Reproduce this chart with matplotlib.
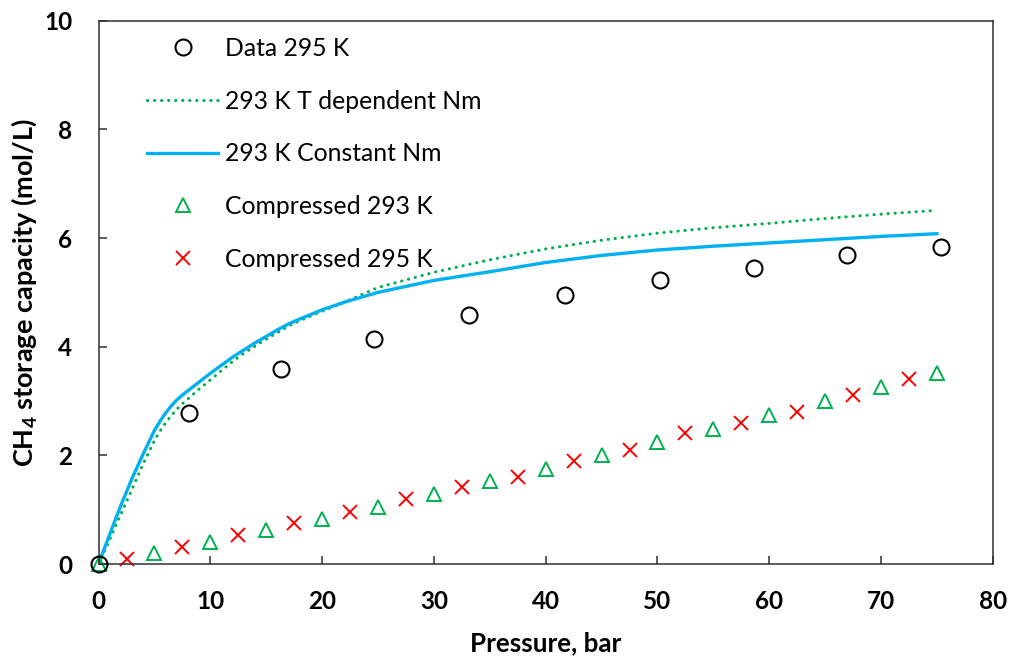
import matplotlib
matplotlib.use("Agg")
import matplotlib.pyplot as plt

plt.rcParams['font.family'] = ['Lato', 'DejaVu Sans']
plt.rcParams['mathtext.fontset'] = 'custom'
plt.rcParams['mathtext.bf'] = 'Lato:bold'
plt.rcParams['mathtext.rm'] = 'Lato:bold'
plt.rcParams['mathtext.default'] = 'bf'

# measured adsorption data, 295 K
data_p = [0, 8.1, 16.3, 24.6, 33.1, 41.7, 50.2, 58.6, 67.0, 75.4]
data_q = [0, 2.78, 3.59, 4.14, 4.59, 4.95, 5.22, 5.45, 5.68, 5.83]

# model curves, 293 K
model_p = [0, 1, 2, 3, 4, 5, 5.5, 6, 6.5, 7, 7.5, 8, 9, 10, 11, 12, 13, 14,
           15, 16, 17, 18, 20, 22, 25, 30, 35, 40, 45, 50, 55, 60, 65, 70, 75]
t_dep_q = [0, 0.45, 0.92, 1.38, 1.85, 2.27, 2.45, 2.60, 2.73, 2.85, 2.95,
           3.04, 3.22, 3.39, 3.56, 3.73, 3.88, 4.01, 4.14, 4.26, 4.38, 4.48,
           4.65, 4.82, 5.09, 5.37, 5.60, 5.80, 5.96, 6.09, 6.19, 6.27, 6.36,
           6.44, 6.51]
const_q = [0, 0.55, 1.08, 1.58, 2.03, 2.46, 2.63, 2.78, 2.91, 3.02, 3.11,
           3.19, 3.35, 3.51, 3.66, 3.81, 3.94, 4.07, 4.19, 4.31, 4.42, 4.51,
           4.68, 4.82, 5.00, 5.22, 5.38, 5.55, 5.68, 5.78, 5.85, 5.91, 5.97,
           6.03, 6.08]

# compressed gas
comp293_p = [0, 5, 10, 15, 20, 25, 30, 35, 40, 45, 50, 55, 60, 65, 70, 75]
comp293_q = [0, 0.20, 0.40, 0.62, 0.83, 1.05, 1.28, 1.52, 1.75, 2.00, 2.24,
             2.49, 2.74, 3.00, 3.26, 3.52]
comp295_p = [2.5, 7.5, 12.5, 17.5, 22.5, 27.5, 32.5, 37.5, 42.5, 47.5, 52.5,
             57.5, 62.5, 67.5, 72.5]
comp295_q = [0.09, 0.31, 0.53, 0.75, 0.95, 1.20, 1.41, 1.60, 1.90, 2.10, 2.41,
             2.60, 2.80, 3.11, 3.40]

GREEN = '#00B050'
BLUE = '#00B0F0'
RED = '#FF0000'

fig = plt.figure(figsize=(10.11, 6.56), dpi=100)
ax = fig.add_axes([0.0975, 0.1402, 0.8845, 0.8282])

ax.plot(data_p, data_q, 'o', ms=11.5, mfc='none', mec='black', mew=1.5,
        label='Data 295 K', zorder=5, clip_on=False)
ax.plot(model_p, t_dep_q, color=GREEN, lw=2.2, dashes=(0.1, 2.2),
        dash_capstyle='round', label='293 K T dependent Nm')
ax.plot(model_p, const_q, color=BLUE, lw=2.4, label='293 K Constant Nm')
ax.plot(comp293_p, comp293_q, '^', ms=10.5, mfc='none', mec=GREEN, mew=1.4,
        label='Compressed 293 K', clip_on=False)
ax.plot(comp295_p, comp295_q, 'x', ms=10, mec=RED, mew=1.4,
        label='Compressed 295 K', clip_on=False)

ax.set_xlim(0, 80)
ax.set_ylim(0, 10)
ax.set_xticks(range(0, 81, 10))
ax.set_yticks(range(0, 11, 2))
ax.tick_params(direction='in', length=6, width=1.1, pad=19, labelsize=17.5,
               color='#303030')
for lab in ax.get_xticklabels() + ax.get_yticklabels():
    lab.set_fontweight('bold')
for sp in ax.spines.values():
    sp.set_linewidth(1.1)
    sp.set_color('#303030')

ax.set_xlabel('Pressure, bar', fontsize=18.7, fontweight='bold')
ax.set_ylabel('CH$_4$ storage capacity (mol/L)', fontsize=19.5, fontweight='bold')
ax.xaxis.set_label_coords(0.5, -0.145)
ax.xaxis.label.set_va('center')
ax.yaxis.set_label_coords(-0.0834, 0.5)
ax.yaxis.label.set_va('center')

leg = ax.legend(loc='upper left', bbox_to_anchor=(146.7 / 1011, 1 - 37 / 656),
                bbox_transform=fig.transFigure, frameon=False, fontsize=17.8,
                borderpad=0, borderaxespad=0, handlelength=2.9,
                handletextpad=0.25, labelspacing=1.2)

fig.savefig('out.png', dpi=100)
